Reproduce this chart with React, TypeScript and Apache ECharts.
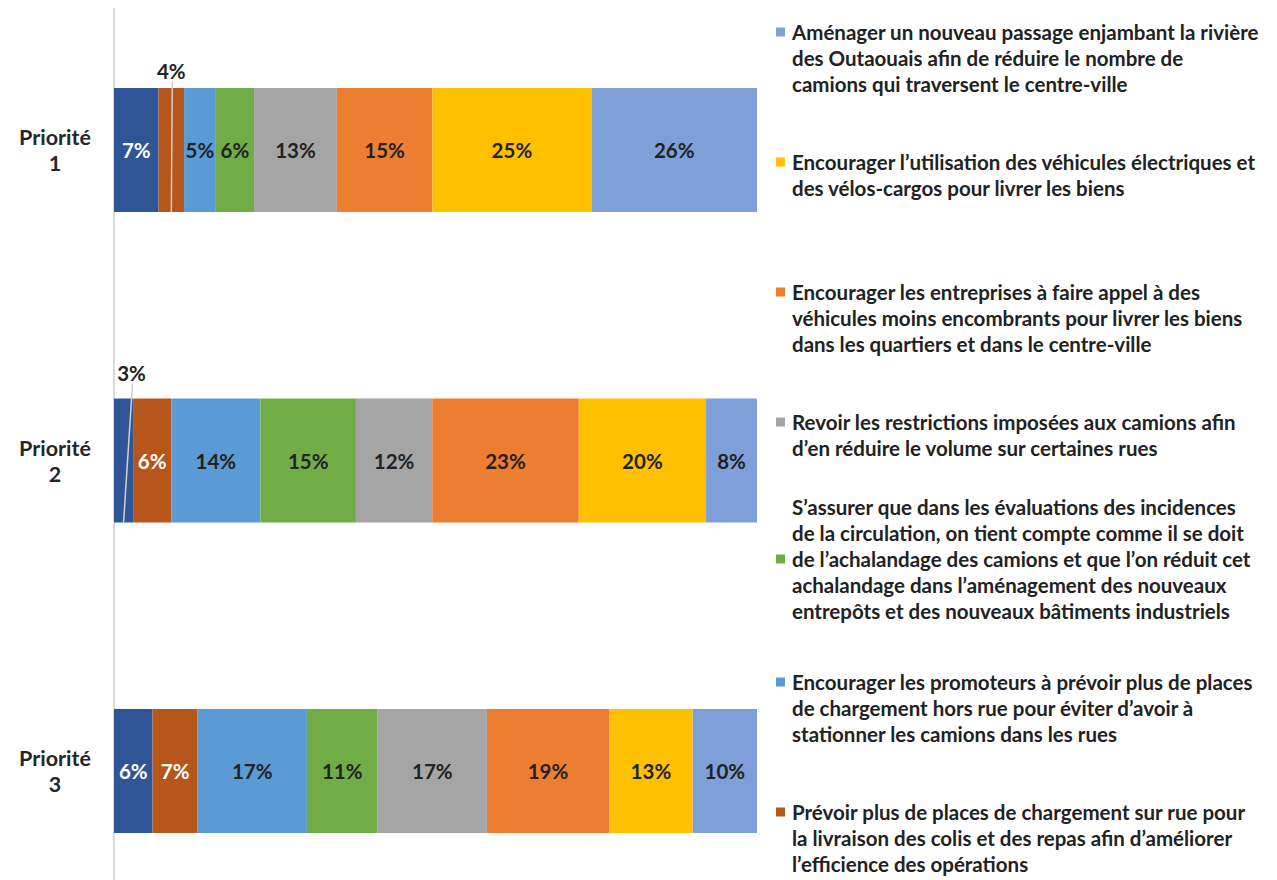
import React, { useEffect, useRef } from 'react';
import * as echarts from 'echarts';

// ---------- data ----------
const categories = ['Priorité 1', 'Priorité 2', 'Priorité 3'];

const autre = [7, 3, 6];
const prevoirSurRue = [4, 6, 7];
const promoteurs = [5, 14, 17];
const evaluations = [6, 15, 11];
const restrictions = [13, 12, 17];
const entreprises = [15, 23, 19];
const electriques = [25, 20, 13];
const passage = [26, 8, 10];

const nameAutre = 'Autre';
const namePrevoir =
  'Prévoir plus de places de chargement sur rue pour la livraison des colis et des repas afin d’améliorer l’efficience des opérations';
const namePromoteurs =
  'Encourager les promoteurs à prévoir plus de places de chargement hors rue pour éviter d’avoir à stationner les camions dans les rues';
const nameEvaluations =
  'S’assurer que dans les évaluations des incidences de la circulation, on tient compte comme il se doit de l’achalandage des camions et que l’on réduit cet achalandage dans l’aménagement des nouveaux entrepôts et des nouveaux bâtiments industriels';
const nameRestrictions = 'Revoir les restrictions imposées aux camions afin d’en réduire le volume sur certaines rues';
const nameEntreprises =
  'Encourager les entreprises à faire appel à des véhicules moins encombrants pour livrer les biens dans les quartiers et dans le centre-ville';
const nameElectriques = 'Encourager l’utilisation des véhicules électriques et des vélos-cargos pour livrer les biens';
const namePassage =
  'Aménager un nouveau passage enjambant la rivière des Outaouais afin de réduire le nombre de camions qui traversent le centre-ville';

// legend text, broken into lines as shown
const legendPassage = [
  'Aménager un nouveau passage enjambant la rivière',
  'des Outaouais afin de réduire le nombre de',
  'camions qui traversent le centre-ville',
];
const legendElectriques = [
  'Encourager l’utilisation des véhicules électriques et',
  'des vélos-cargos pour livrer les biens',
];
const legendEntreprises = [
  'Encourager les entreprises à faire appel à des',
  'véhicules moins encombrants pour livrer les biens',
  'dans les quartiers et dans le centre-ville',
];
const legendRestrictions = [
  'Revoir les restrictions imposées aux camions afin',
  'd’en réduire le volume sur certaines rues',
];
const legendEvaluations = [
  'S’assurer que dans les évaluations des incidences',
  'de la circulation, on tient compte comme il se doit',
  'de l’achalandage des camions et que l’on réduit cet',
  'achalandage dans l’aménagement des nouveaux',
  'entrepôts et des nouveaux bâtiments industriels',
];
const legendPromoteurs = [
  'Encourager les promoteurs à prévoir plus de places',
  'de chargement hors rue pour éviter d’avoir à',
  'stationner les camions dans les rues',
];
const legendPrevoir = [
  'Prévoir plus de places de chargement sur rue pour',
  'la livraison des colis et des repas afin d’améliorer',
  'l’efficience des opérations',
];

// ---------- styling ----------
const FONT = 'Lato';
const TEXT = '#222222';
const LEGEND_SIZE = 20.5;
const BAR_LABEL_SIZE = 20.5;
const AXIS_LABEL_SIZE = 21.5;

const stackSeries = [
  { name: nameAutre, values: autre, color: '#2F5597', labelColor: '#ffffff' },
  { name: namePrevoir, values: prevoirSurRue, color: '#B6561A', labelColor: '#ffffff' },
  { name: namePromoteurs, values: promoteurs, color: '#5B9BD5', labelColor: TEXT },
  { name: nameEvaluations, values: evaluations, color: '#70AD47', labelColor: TEXT },
  { name: nameRestrictions, values: restrictions, color: '#A5A5A5', labelColor: TEXT },
  { name: nameEntreprises, values: entreprises, color: '#ED7D31', labelColor: TEXT },
  { name: nameElectriques, values: electriques, color: '#FFC000', labelColor: TEXT },
  { name: namePassage, values: passage, color: '#7E9FD8', labelColor: TEXT },
];

const legendEntries = [
  { name: namePassage, lines: legendPassage, markerLine: 0, top: 19 },
  { name: nameElectriques, lines: legendElectriques, markerLine: 0, top: 149 },
  { name: nameEntreprises, lines: legendEntreprises, markerLine: 0, top: 279 },
  { name: nameRestrictions, lines: legendRestrictions, markerLine: 0, top: 409 },
  { name: nameEvaluations, lines: legendEvaluations, markerLine: 2, top: 494 },
  { name: namePromoteurs, lines: legendPromoteurs, markerLine: 0, top: 669 },
  { name: namePrevoir, lines: legendPrevoir, markerLine: 0, top: 799 },
];

const SMALL = 5; // values under this get an outside label with a leader line
const outsideDx = [0, 8, 0];
const outsideDy = [17, 25, 17];

export default function App() {
  const ref = useRef<HTMLDivElement>(null);

  useEffect(() => {
    if (!ref.current) return;
    const chart = echarts.init(ref.current, undefined, { renderer: 'svg' });

    const totals = categories.map((_, ci) => stackSeries.reduce((s, se) => s + se.values[ci], 0));

    const barSeries = stackSeries.map((se) => ({
      type: 'bar',
      name: se.name,
      stack: 'total',
      barWidth: '40%',
      xAxisIndex: 0,
      yAxisIndex: 0,
      z: 2,
      itemStyle: { color: se.color },
      data: se.values.map((v, ci) => (v / totals[ci]) * 100),
      label: {
        show: true,
        position: 'inside',
        color: se.labelColor,
        fontFamily: FONT,
        fontSize: BAR_LABEL_SIZE,
        fontWeight: 'bold',
        formatter: (p: any) => {
          const raw = se.values[p.dataIndex];
          return raw < SMALL ? '' : raw + '%';
        },
      },
      emphasis: { disabled: true },
    }));

    const outsideItems: { mid: number; cat: number; text: string }[] = [];
    categories.forEach((_, ci) => {
      let cum = 0;
      stackSeries.forEach((se) => {
        const share = (se.values[ci] / totals[ci]) * 100;
        if (se.values[ci] < SMALL) {
          outsideItems.push({ mid: cum + share / 2, cat: ci, text: se.values[ci] + '%' });
        }
        cum += share;
      });
    });

    const outsideSeries = {
      type: 'custom',
      name: 'outside-labels',
      xAxisIndex: 0,
      yAxisIndex: 0,
      z: 5,
      silent: true,
      data: outsideItems.map((o) => [o.mid, o.cat]),
      encode: { x: 0, y: 1 },
      renderItem: (params: any, api: any) => {
        const item = outsideItems[params.dataIndex];
        const p = api.coord([api.value(0), api.value(1)]);
        const band = api.size([0, 1])[1];
        const half = (band * 0.4) / 2;
        const lx = p[0] + outsideDx[item.cat];
        const ly = p[1] - half - outsideDy[item.cat];
        return {
          type: 'group',
          children: [
            {
              type: 'line',
              shape: { x1: lx + 1, y1: ly + 10, x2: p[0], y2: p[1] + half },
              style: { stroke: '#D0D0D0', lineWidth: 1.5 },
            },
            {
              type: 'text',
              x: lx,
              y: ly,
              style: {
                text: item.text,
                fill: TEXT,
                fontFamily: FONT,
                fontSize: BAR_LABEL_SIZE,
                fontWeight: 'bold',
                align: 'center',
                verticalAlign: 'middle',
              },
            },
          ],
        };
      },
    };

    const legends = legendEntries.map((le) => {
      const se = stackSeries.find((s) => s.name === le.name)!;
      const rich: any = {
        t: { fontFamily: FONT, fontSize: LEGEND_SIZE, fontWeight: 'bold', color: TEXT, lineHeight: 26 },
        sq: { width: 9, height: 9, backgroundColor: se.color },
        g: { width: 7, height: 9 },
        i: { width: 16, height: 9 },
      };
      const text = le.lines
        .map((ln, k) => (k === le.markerLine ? '{sq|}{g|}{t|' + ln + '}' : '{i|}{t|' + ln + '}'))
        .join('\n');
      return {
        data: [le.name],
        top: le.top,
        left: 771,
        orient: 'vertical',
        icon: 'none',
        itemWidth: 0,
        itemHeight: 9,
        padding: 0,
        selectedMode: false,
        formatter: () => text,
        textStyle: { rich, lineHeight: 26, fontFamily: FONT, fontSize: LEGEND_SIZE, color: TEXT },
      };
    });

    chart.setOption({
      animation: false,
      backgroundColor: '#ffffff',
      grid: [
        { left: 114, right: 520, top: -5.25, height: 931.5, outerBoundsMode: 'none', containLabel: false },
        { left: 114, right: 520, top: 9, bottom: 0, outerBoundsMode: 'none', containLabel: false },
      ],
      xAxis: [
        { type: 'value', gridIndex: 0, min: 0, max: 100, show: false },
        { type: 'value', gridIndex: 1, min: 0, max: 100, show: false },
      ],
      yAxis: [
        {
          type: 'category',
          gridIndex: 0,
          inverse: true,
          data: categories,
          axisLine: { show: false },
          axisTick: { show: false },
          axisLabel: {
            margin: 59,
            align: 'center',
            color: '#262626',
            fontFamily: FONT,
            fontSize: AXIS_LABEL_SIZE,
            fontWeight: 'bold',
            lineHeight: 26,
            formatter: (v: string) => v.replace(' ', '\n'),
          },
        },
        {
          type: 'value',
          gridIndex: 1,
          min: 0,
          max: 1,
          axisLine: { show: true, lineStyle: { color: '#D9D9D9', width: 2 } },
          axisTick: { show: false },
          axisLabel: { show: false },
          splitLine: { show: false },
        },
      ],
      legend: legends,
      series: [...barSeries, outsideSeries],
    });

    return () => chart.dispose();
  }, []);

  return (
    <div
      ref={ref}
      style={{ position: 'fixed', left: 0, top: 0, width: 1277, height: 880, background: '#fff' }}
    />
  );
}
